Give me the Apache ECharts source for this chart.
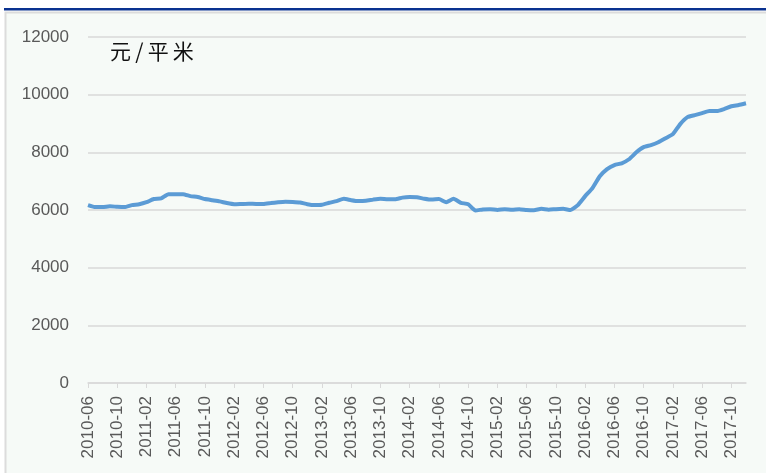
<!DOCTYPE html>
<html>
<head>
    <meta charset="utf-8">
    <title>元/平米</title>
    <script src="https://cdn.jsdelivr.net/npm/echarts@6.0.0/dist/echarts.min.js"></script>
    <style>
        html, body { margin: 0; padding: 0; background: #ffffff; }
        #chart { width: 766px; height: 473px; }
    </style>
</head>
<body>
    <div id="chart"></div>
    <script>
        // monthly average price, 2010-06 .. 2017-12
        const startYear = 2010;
        const startMonth = 6;
        const prices = [
            6170, 6100, 6100, 6130, 6110, 6100, 6170, 6200, 6270, 6380,
            6400, 6550, 6550, 6550, 6480, 6450, 6380, 6340, 6300, 6240,
            6200, 6210, 6220, 6210, 6210, 6240, 6270, 6290, 6280, 6260,
            6200, 6170, 6180, 6250, 6310, 6390, 6340, 6310, 6320, 6360,
            6390, 6370, 6370, 6430, 6450, 6440, 6390, 6360, 6380, 6270,
            6390, 6250, 6200, 5980, 6020, 6030, 6000, 6030, 6010, 6030,
            6000, 5990, 6040, 6010, 6030, 6040, 6000, 6170, 6480, 6760,
            7170, 7420, 7560, 7620, 7760, 8000, 8180, 8250, 8350, 8490,
            8630, 8980, 9220, 9290, 9360, 9430, 9430, 9500, 9600, 9640,
            9700
        ];
        const unitLabel = '元/平米';

        const months = prices.map((_, i) => {
            const m = startMonth - 1 + i;
            const y = startYear + Math.floor(m / 12);
            const mm = (m % 12) + 1;
            return y + '-' + (mm < 10 ? '0' + mm : mm);
        });

        const chart = echarts.init(document.getElementById('chart'));
        chart.setOption({
            backgroundColor: '#ffffff',
            animation: false,
            graphic: [
                {
                    type: 'rect',
                    z: -10,
                    shape: { x: 5.5, y: 12.5, width: 770, height: 470 },
                    style: { fill: '#f6faf7', stroke: '#dcdcdc', lineWidth: 2 }
                },
                {
                    type: 'rect',
                    z: -5,
                    shape: { x: 4, y: 8, width: 762, height: 2.5 },
                    style: { fill: '#0a3290' }
                },
                {
                    type: 'text',
                    left: 110,
                    top: 41,
                    style: {
                        text: unitLabel.split('').join('\u2009'),
                        font: '21px "Noto Sans CJK SC"',
                        fill: '#111111'
                    }
                }
            ],
            grid: { left: 88, right: 20, top: 37, bottom: 90 },
            xAxis: {
                type: 'category',
                data: months,
                boundaryGap: false,
                axisLine: { lineStyle: { color: '#d9d9d9', width: 1.5 } },
                axisTick: {
                    show: true,
                    interval: 3,
                    length: 5,
                    lineStyle: { color: '#d9d9d9' }
                },
                axisLabel: {
                    interval: 3,
                    rotate: 90,
                    margin: 13,
                    color: '#595959',
                    fontSize: 17,
                    fontFamily: 'Liberation Sans'
                }
            },
            yAxis: {
                type: 'value',
                min: 0,
                max: 12000,
                interval: 2000,
                axisLine: { show: false },
                axisTick: { show: false },
                splitLine: { lineStyle: { color: '#d9d9d9', width: 1.5 } },
                axisLabel: {
                    margin: 19,
                    color: '#595959',
                    fontSize: 17,
                    fontFamily: 'Liberation Sans',
                    formatter: v => String(v)
                }
            },
            series: [{
                type: 'line',
                data: prices,
                showSymbol: false,
                smooth: 0.15,
                lineStyle: { color: '#5b9bd5', width: 4 }
            }]
        });
    </script>
</body>
</html>
